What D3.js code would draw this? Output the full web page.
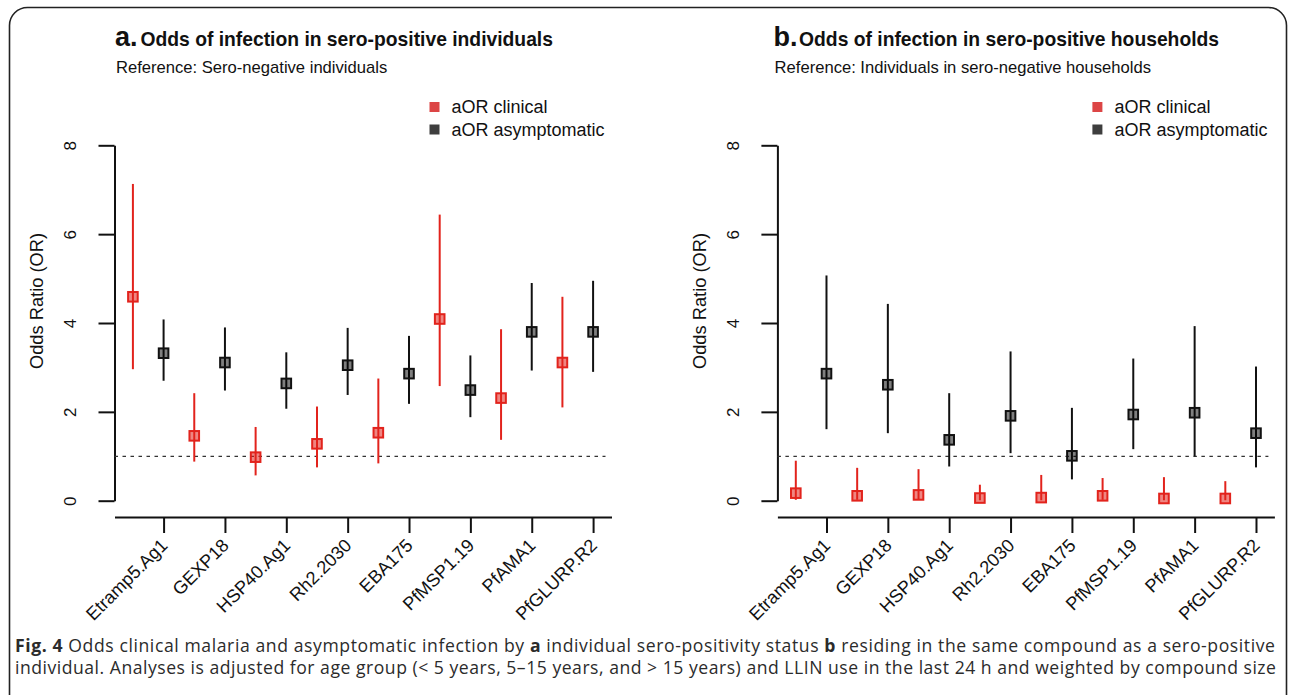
<!DOCTYPE html>
<html>
<head>
<meta charset="utf-8">
<script src="https://cdn.jsdelivr.net/npm/d3@7"></script>
<style>
  html, body { margin: 0; padding: 0; background: #fff; }
  svg { display: block; }
  .lab { font-family: "Liberation Sans", Arial, Helvetica, sans-serif; fill: #111; }
  .cap { font-family: "Open Sans", "Noto Sans", sans-serif; fill: #2b2b2b; }
</style>
</head>
<body>
<svg id="fig" width="1292" height="695"></svg>
<script>
// antigènes (axe x)
const antigens = ["Etramp5.Ag1", "GEXP18", "HSP40.Ag1", "Rh2.2030", "EBA175", "PfMSP1.19", "PfAMA1", "PfGLURP.R2"];
const yTicks = [0, 2, 4, 6, 8];

// a. individus séro-positifs
const clinA_or = [4.59, 1.46, 0.98, 1.28, 1.53, 4.09, 2.31, 3.11];
const clinA_lo = [2.96, 0.88, 0.57, 0.75, 0.84, 2.58, 1.37, 2.10];
const clinA_hi = [7.13, 2.42, 1.66, 2.12, 2.75, 6.44, 3.86, 4.59];
const asymA_or = [3.32, 3.11, 2.64, 3.05, 2.86, 2.49, 3.80, 3.80];
const asymA_lo = [2.70, 2.48, 2.07, 2.38, 2.18, 1.88, 2.93, 2.90];
const asymA_hi = [4.08, 3.90, 3.34, 3.89, 3.71, 3.27, 4.90, 4.95];

// b. ménages séro-positifs
const clinB_or = [0.17, 0.11, 0.13, 0.06, 0.07, 0.11, 0.05, 0.05];
const clinB_lo = [0.02, 0.02, 0.02, 0.01, 0.01, 0.02, 0.01, 0.01];
const clinB_hi = [0.90, 0.74, 0.71, 0.36, 0.58, 0.51, 0.53, 0.44];
const asymB_or = [2.86, 2.61, 1.37, 1.91, 1.01, 1.94, 1.98, 1.52];
const asymB_lo = [1.61, 1.52, 0.77, 1.07, 0.48, 1.16, 1.00, 0.75];
const asymB_hi = [5.07, 4.43, 2.42, 3.36, 2.09, 3.20, 3.93, 3.02];

const redCol = "#e2231c";
const blackCol = "#111";

const svg = d3.select("#fig");

// cadre arrondi (bas coupé)
svg.append("rect")
  .attr("x", 9.5).attr("y", 7.5)
  .attr("width", 1277).attr("height", 740)
  .attr("rx", 18)
  .attr("fill", "none").attr("stroke", "#222").attr("stroke-width", 1.6);

const y = d3.scaleLinear().domain([0, 8]).range([500.7, 145.3]);

function drawPanel(left, letter, title, reference, clin, asym, titleDx) {
  const x = d3.scaleLinear().domain([0.4, 16.6]).range([left, left + 497]);
  const g = svg.append("g");

  // titre
  g.append("text").attr("class", "lab")
    .attr("x", left + titleDx).attr("y", 46)
    .attr("font-size", 27).attr("font-weight", "bold")
    .text(letter);
  g.append("text").attr("class", "lab")
    .attr("x", left + titleDx + 25.5).attr("y", 46)
    .attr("font-size", 19.3).attr("font-weight", "bold")
    .text(title);
  g.append("text").attr("class", "lab")
    .attr("x", left + titleDx + 1).attr("y", 73)
    .attr("font-size", 16.6)
    .text(reference);

  // légende
  const legend = [["aOR clinical", "#dc4545"], ["aOR asymptomatic", "#3e3e3e"]];
  legend.forEach((d, i) => {
    g.append("rect")
      .attr("x", left + 315).attr("y", 102 + i * 22.5)
      .attr("width", 10).attr("height", 10)
      .attr("fill", d[1]);
    g.append("text").attr("class", "lab")
      .attr("x", left + 337).attr("y", 107 + i * 22.5)
      .attr("dy", "0.36em")
      .attr("font-size", 18)
      .text(d[0]);
  });

  // axe y
  const yAxis = g.append("g")
    .attr("transform", `translate(${left},0)`)
    .call(d3.axisLeft(y).tickValues(yTicks).tickSize(16).tickSizeOuter(0));
  yAxis.select(".domain").attr("stroke", blackCol).attr("stroke-width", 2);
  yAxis.selectAll(".tick line").attr("stroke", blackCol).attr("stroke-width", 2);
  yAxis.selectAll(".tick text")
    .attr("class", "lab")
    .attr("x", 0).attr("dy", "0.35em")
    .attr("text-anchor", "middle")
    .attr("font-size", 17)
    .attr("transform", "translate(-44.5,0) rotate(-90)");

  g.append("text").attr("class", "lab")
    .attr("transform", `translate(${left - 78},301) rotate(-90)`)
    .attr("text-anchor", "middle").attr("dy", "0.35em")
    .attr("font-size", 18.3)
    .text("Odds Ratio (OR)");

  // axe x
  const xAxis = g.append("g")
    .attr("transform", "translate(0,517)")
    .call(d3.axisBottom(x)
      .tickValues(antigens.map((d, i) => 2 * i + 2))
      .tickFormat((d) => antigens[d / 2 - 1])
      .tickSize(16).tickSizeOuter(0));
  xAxis.select(".domain").attr("stroke", blackCol).attr("stroke-width", 2);
  xAxis.selectAll(".tick line").attr("stroke", blackCol).attr("stroke-width", 2);
  xAxis.selectAll(".tick text")
    .attr("class", "lab")
    .attr("x", 0).attr("y", 0).attr("dy", 0)
    .attr("text-anchor", "end")
    .attr("font-size", 18.2)
    .attr("transform", "translate(4.5,29.5) rotate(-45)");

  // ligne de référence OR = 1
  g.append("line")
    .attr("x1", x.range()[0]).attr("x2", x.range()[1] - 6)
    .attr("y1", y(1)).attr("y2", y(1))
    .attr("stroke", "#333").attr("stroke-width", 1.3)
    .attr("stroke-dasharray", "3.5,4.5");

  // séries : clinique (positions impaires), asymptomatique (positions paires)
  const series = [
    {vals: clin, off: 1, col: redCol, fill: "rgba(226,35,28,0.55)"},
    {vals: asym, off: 2, col: blackCol, fill: "rgba(0,0,0,0.5)"}
  ];
  series.forEach(s => {
    const pts = antigens.map((a, i) => ({
      p: 2 * i + s.off, or: s.vals[0][i], lo: s.vals[1][i], hi: s.vals[2][i]
    }));
    g.selectAll(null).data(pts).enter().append("line")
      .attr("x1", d => x(d.p)).attr("x2", d => x(d.p))
      .attr("y1", d => y(d.lo)).attr("y2", d => y(d.hi))
      .attr("stroke", s.col).attr("stroke-width", 2);
    g.selectAll(null).data(pts).enter().append("rect")
      .attr("x", d => x(d.p) - 4.8).attr("y", d => y(d.or) - 4.8)
      .attr("width", 9.6).attr("height", 9.6)
      .attr("fill", s.fill).attr("stroke", s.col).attr("stroke-width", 2);
  });
}

drawPanel(114.5, "a.", "Odds of infection in sero-positive individuals",
  "Reference: Sero-negative individuals",
  [clinA_or, clinA_lo, clinA_hi], [asymA_or, asymA_lo, asymA_hi], 0.5);
drawPanel(777.4, "b.", "Odds of infection in sero-positive households",
  "Reference: Individuals in sero-negative households",
  [clinB_or, clinB_lo, clinB_hi], [asymB_or, asymB_lo, asymB_hi], -3.8);

// légende de la figure
const cap1 = svg.append("text").attr("class", "cap")
  .attr("x", 15).attr("y", 652).attr("font-size", 17.6)
  .attr("textLength", 1260).attr("lengthAdjust", "spacing");
cap1.append("tspan").attr("font-weight", "bold").text("Fig. 4");
cap1.append("tspan").text(" Odds clinical malaria and asymptomatic infection by ");
cap1.append("tspan").attr("font-weight", "bold").text("a");
cap1.append("tspan").text(" individual sero-positivity status ");
cap1.append("tspan").attr("font-weight", "bold").text("b");
cap1.append("tspan").text(" residing in the same compound as a sero-positive");

svg.append("text").attr("class", "cap")
  .attr("x", 15).attr("y", 674).attr("font-size", 17.6)
  .attr("textLength", 1261).attr("lengthAdjust", "spacing")
  .text("individual. Analyses is adjusted for age group (< 5 years, 5–15 years, and > 15 years) and LLIN use in the last 24 h and weighted by compound size");
</script>
</body>
</html>
